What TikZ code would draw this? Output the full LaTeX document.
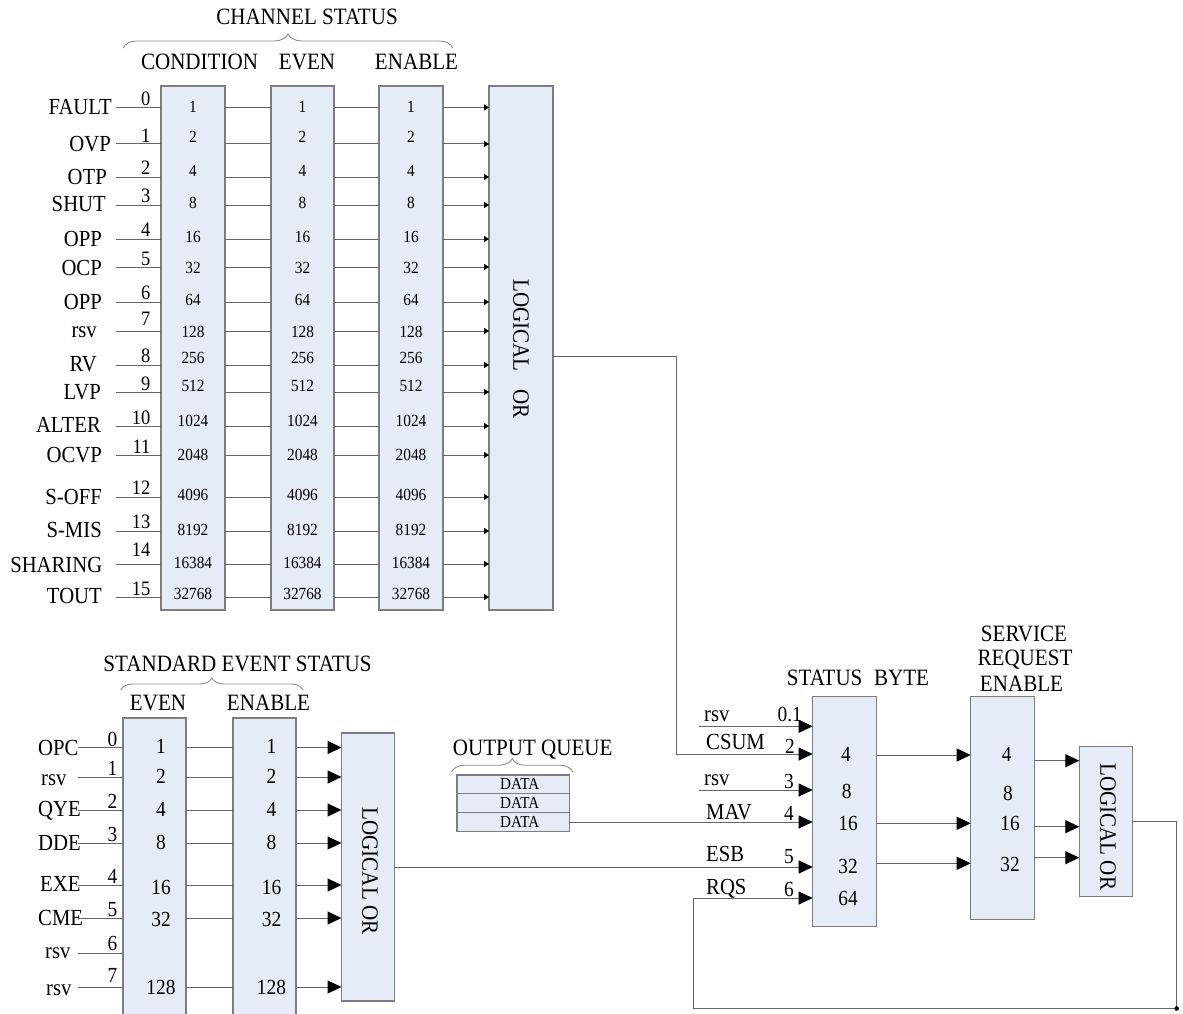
\documentclass[tikz,border=0pt]{standalone}
\usepackage{fontspec}
\setmainfont{Liberation Serif}[FakeStretch=0.9]
\usetikzlibrary{arrows.meta,decorations.pathreplacing}
\definecolor{boxfill}{RGB}{229,235,247}
\definecolor{boxline}{RGB}{125,125,125}
\definecolor{connc}{RGB}{100,100,100}
\definecolor{bracec}{RGB}{140,140,140}
\newcommand\fLab{\fontsize{23}{27}\selectfont}
\newcommand\fHdr{\fontsize{23.4}{27.8}\selectfont}
\newcommand\fTnum{\fontsize{17}{20}\selectfont}
\newcommand\fTbit{\fontsize{20.5}{24}\selectfont}
\newcommand\fBnum{\fontsize{21.5}{25}\selectfont}
\newcommand\fData{\fontsize{16.8}{20}\selectfont}
\begin{document}
\begin{tikzpicture}[x=1pt,y=-1pt,
  box/.style={draw=boxline, fill=boxfill, line width=1.3pt, inner sep=0pt, outer sep=0pt, anchor=north west},
  conn/.style={draw=connc, line width=1pt},
  sarr/.style={-{Triangle[length=5pt,width=6pt,color=black]}},
  barr/.style={-{Triangle[length=14pt,width=13pt,color=black]}},
  lab/.style={inner sep=0pt, font=\fLab},
  hdr/.style={inner sep=0pt, font=\fHdr},
  tnum/.style={inner sep=0pt, font=\fTnum},
  tbit/.style={inner sep=0pt, font=\fTbit},
  bnum/.style={inner sep=0pt, font=\fBnum},
  brc/.style={decorate, draw=bracec, line width=0.9pt},
  ortext/.style={inner sep=0pt, font=\fHdr, rotate=-90}
]
\useasboundingbox (0,0) rectangle (1183,1014);
\clip (0,0) rectangle (1183,1014);

% ---------------- CHANNEL STATUS ----------------
\node[hdr, anchor=base] (hCS) at (307,25) {CHANNEL STATUS};
\draw[brc, decoration={brace, amplitude=14pt}] (123,48) -- (453,48);
\node[hdr, anchor=base] (hCond) at (199.5,70) {CONDITION};
\node[hdr, anchor=base] (hEven) at (307,70) {EVEN};
\node[hdr, anchor=base] (hEnab) at (416.5,70) {ENABLE};

\node[box, minimum width=64pt, minimum height=524pt] (c1) at (161,86) {};
\node[box, minimum width=63pt, minimum height=524pt] (c2) at (271,86) {};
\node[box, minimum width=64pt, minimum height=524pt] (c3) at (379,86) {};
\node[box, minimum width=64pt, minimum height=524pt] (or1) at (489,86) {};
\node[ortext] (or1t) at (521,349) {LOGICAL\hspace{18pt}OR};

\foreach \i/\lbl/\lx/\lb/\ly/\bb/\val/\vb in {
0/FAULT/112/114.3/107.5/106/1/112.7,
1/OVP/111/151/144/142.5/2/142.7,
2/OTP/107/184/177/175/4/176,
3/SHUT/106/211.7/205/202.7/8/208.3,
4/OPP/102/246/239/236/16/242.7,
5/OCP/102/275/267/265/32/273.3,
6/OPP/102/309.3/302/299/64/305,
7/rsv/97/337.3/331/325/128/337.3,
8/RV/97/371.7/365/362.7/256/363.3,
9/LVP/101/399.3/392/390/512/391.7,
10/ALTER/101/432.7/426/424/1024/426,
11/OCVP/102/462.7/455/453/2048/460,
12/S-OFF/102/504/497/494/4096/500,
13/S-MIS/102/537.3/531/528/8192/535,
14/SHARING/102.5/572.7/564/556/16384/568.3,
15/TOUT/102/603.3/597/595/32768/599.3}{
  \node[lab, anchor=base east] (tl\i) at (\lx,\lb) {\lbl};
  \coordinate (ts\i) at (116,\ly);
  \node[tbit, anchor=base east] (tb\i) at (150.5,\bb) {\i};
  \node[tnum, anchor=base] (tna\i) at (193,\vb) {\val};
  \node[tnum, anchor=base] (tnb\i) at (302.5,\vb) {\val};
  \node[tnum, anchor=base] (tnc\i) at (411,\vb) {\val};
  \draw[conn] (ts\i) -- (ts\i -| c1.west);
  \draw[conn] (ts\i -| c1.east) -- (ts\i -| c2.west);
  \draw[conn] (ts\i -| c2.east) -- (ts\i -| c3.west);
  \draw[conn, sarr] (ts\i -| c3.east) -- (ts\i -| or1.west);
}

% ---------------- STANDARD EVENT STATUS ----------------
\node[hdr, anchor=base] (hSES) at (237.5,671.7) {STANDARD EVENT STATUS};
\draw[brc, decoration={brace, amplitude=12pt}] (120.7,690) -- (303,690);
\node[hdr, anchor=base] (hEven2) at (158,710.7) {EVEN};
\node[hdr, anchor=base] (hEnab2) at (268.5,710.7) {ENABLE};

\node[box, minimum width=63pt, minimum height=310pt] (e1) at (123,718) {};
\node[box, minimum width=63pt, minimum height=310pt] (e2) at (233,718) {};
\node[box, minimum width=53pt, minimum height=268pt] (or2) at (341.5,733) {};
\node[ortext] (or2t) at (370,871) {LOGICAL OR};

\foreach \i/\lbl/\lx/\lb/\ly/\bb/\val/\vb in {
0/OPC/38/755/747.5/746.7/1/753.3,
1/rsv/41/785/777/775/2/783.3,
2/QYE/38/816.7/810/808.3/4/816.7,
3/DDE/38/850/843/841.7/8/849.3,
4/EXE/40/891.7/885/883.3/16/894,
5/CME/38/925/918/916.7/32/926,
7/rsv/46/995/987/982.3/128/994}{
  \node[lab, anchor=base west] (bl\i) at (\lx,\lb) {\lbl};
  \coordinate (bs\i) at (78,\ly);
  \node[bnum, anchor=base east] (bb\i) at (117.5,\bb) {\i};
  \node[bnum, anchor=base] (bna\i) at (161,\vb) {\val};
  \node[bnum, anchor=base] (bnb\i) at (271.5,\vb) {\val};
  \draw[conn] (bs\i) -- (bs\i -| e1.west);
  \draw[conn] (bs\i -| e1.east) -- (bs\i -| e2.west);
  \draw[conn, barr] (bs\i -| e2.east) -- (bs\i -| or2.west);
}
\node[lab, anchor=base west] (bl6) at (45,958.3) {rsv};
\coordinate (bs6) at (78,953);
\node[bnum, anchor=base east] (bb6) at (117.5,950.7) {6};
\draw[conn] (bs6) -- (bs6 -| e1.west);

% ---------------- OUTPUT QUEUE ----------------
\node[hdr, anchor=base] (hOQ) at (532.7,755) {OUTPUT QUEUE};
\draw[brc, decoration={brace, amplitude=13pt}] (451.7,771.7) -- (572.7,771.7);
\node[box, minimum width=112.3pt, minimum height=18.8pt, font=\fData] (oq1) at (457,775) {\hspace*{13pt}DATA};
\node[box, minimum width=112.3pt, minimum height=18.8pt, font=\fData] (oq2) at (457,793.8) {\hspace*{13pt}DATA};
\node[box, minimum width=112.3pt, minimum height=18.8pt, font=\fData] (oq3) at (457,812.6) {\hspace*{13pt}DATA};

% ---------------- STATUS BYTE ----------------
\node[hdr, anchor=base] (hSB) at (858,685) {STATUS\hspace{0.5em}BYTE};
\node[hdr, anchor=base] (hSRE1) at (1024,641.7) {SERVICE};
\node[hdr, anchor=base] (hSRE2) at (1025,665) {REQUEST};
\node[hdr, anchor=base] (hSRE3) at (1021.5,691.7) {ENABLE};

\node[box, minimum width=64pt, minimum height=230pt] (sb) at (812.7,696.7) {};
\node[box, minimum width=63.6pt, minimum height=222.6pt] (sre) at (970.7,696.7) {};
\node[box, minimum width=53pt, minimum height=150pt] (or3) at (1079.3,746.7) {};
\node[ortext] (or3t) at (1108,826.7) {LOGICAL OR};

% status byte numbers
\node[bnum, anchor=base] (sb4) at (846,761.7) {4};
\node[bnum, anchor=base] (sb8) at (846.7,798.3) {8};
\node[bnum, anchor=base] (sb16) at (848,830) {16};
\node[bnum, anchor=base] (sb32) at (848,873.3) {32};
\node[bnum, anchor=base] (sb64) at (848,905) {64};
% service request enable numbers
\node[bnum, anchor=base] (sr4) at (1006.7,761.7) {4};
\node[bnum, anchor=base] (sr8) at (1008,800) {8};
\node[bnum, anchor=base] (sr16) at (1010,830) {16};
\node[bnum, anchor=base] (sr32) at (1010,871.7) {32};

% status byte input labels
\node[lab, anchor=base west] (iRsv0) at (704,721.7) {rsv};
\node[lab, anchor=base west] (iCsum) at (706,749.3) {CSUM};
\node[lab, anchor=base west] (iRsv3) at (704,785) {rsv};
\node[lab, anchor=base west] (iMav) at (706,819) {MAV};
\node[lab, anchor=base west] (iEsb) at (706,861.7) {ESB};
\node[lab, anchor=base west] (iRqs) at (706,894) {RQS};
\node[bnum, anchor=base east] (n01) at (802,721.7) {0.1};
\node[bnum, anchor=base east] (n2) at (795,753.3) {2};
\node[bnum, anchor=base east] (n3) at (794,788.3) {3};
\node[bnum, anchor=base east] (n4) at (794,820.7) {4};
\node[bnum, anchor=base east] (n5) at (794,863.3) {5};
\node[bnum, anchor=base east] (n6) at (794,896.7) {6};

% inputs into status byte
\coordinate (r0) at (699,726.3);
\draw[conn, barr] (r0) -- (r0 -| sb.west);
\coordinate (o1) at (0,356);
\coordinate (csum) at (676,754);
\draw[conn, barr] (o1 -| or1.east) -| (csum) -- (csum -| sb.west);
\coordinate (r3) at (699,790);
\draw[conn, barr] (r3) -- (r3 -| sb.west);
\draw[conn, barr] (oq3.east) -- (oq3.east -| sb.west);
\draw[conn, barr] (or2.east) -- (or2.east -| sb.west);

% status byte -> service request enable
\foreach \k/\yy in {a/755,b/823.3,c/863.3}{
  \coordinate (q\k) at (0,\yy);
  \draw[conn, barr] (q\k -| sb.east) -- (q\k -| sre.west);
}
% service request enable -> logical or
\foreach \k/\yy in {a/760.7,b/826.7,c/857.7}{
  \coordinate (p\k) at (0,\yy);
  \draw[conn, barr] (p\k -| sre.east) -- (p\k -| or3.west);
}

% feedback RQS
\coordinate (rt) at (1176.7,1008.5);
\coordinate (lbk) at (693,1008.5);
\coordinate (rq) at (693,898);
\draw[conn, barr] (or3.east) -| (rt) -- (lbk) -- (rq) -- (rq -| sb.west);
\fill[black] (rt) circle (2.3);
\end{tikzpicture}
\end{document}
